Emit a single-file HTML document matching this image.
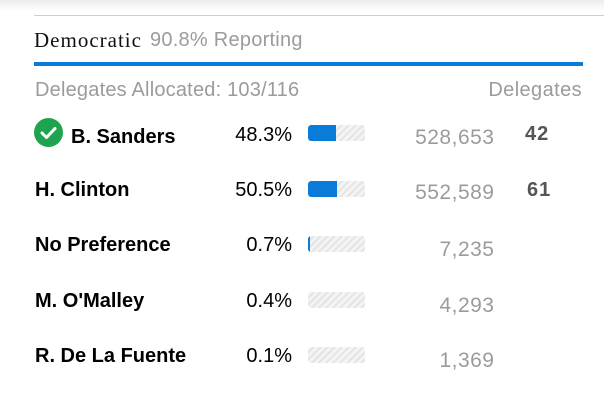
<!DOCTYPE html>
<html><head><meta charset="utf-8"><style>
html,body{margin:0;padding:0;background:#fff;width:604px;height:400px;overflow:hidden;position:relative;font-family:"Liberation Sans",Arial,sans-serif;}
.a{position:absolute;white-space:nowrap;line-height:20px;font-size:20px;}
.shadow{position:absolute;left:0;top:0;width:604px;height:11px;background:linear-gradient(#ececec,#fff);}
.topline{position:absolute;left:34px;top:15px;width:570px;height:1px;background:#cfcfcf;}
.blueline{position:absolute;left:34px;top:62px;width:549px;height:4px;background:#0a7cd7;}
.name{font-weight:bold;color:#000;left:35px;}
.pct{color:#000;right:312px;text-align:right;}
.num{color:#9b9b9b;right:110px;text-align:right;letter-spacing:0.5px;margin-right:-0.5px;font-size:21px;}
.del{color:#555;font-weight:bold;letter-spacing:1px;}
.bar{position:absolute;left:308px;width:57px;height:16px;border-radius:3px;overflow:hidden;
background:repeating-linear-gradient(135deg,#f4f4f4 0px,#f4f4f4 3px,#e4e4e4 3px,#e4e4e4 5px);}
.fill{position:absolute;left:0;top:0;height:16px;background:#0a7cd7;border-radius:3px 0 0 3px;}
</style></head><body>
<div class="shadow"></div>
<div class="topline"></div>
<div class="a" style="left:34px;top:29px;font-family:'Liberation Serif',serif;font-size:21px;line-height:22px;letter-spacing:1px;color:#111;">Democratic</div>
<div class="a" style="left:150px;top:30px;color:#9b9b9b;letter-spacing:0.25px;">90.8% Reporting</div>
<div class="blueline"></div>
<div class="a" style="left:35px;top:80px;color:#9b9b9b;letter-spacing:0.2px;">Delegates Allocated: 103/116</div>
<div class="a" style="right:22px;top:80px;color:#9b9b9b;letter-spacing:0.4px;">Delegates</div>

<svg style="position:absolute;left:34px;top:118px" width="29" height="29" viewBox="0 0 29 29">
<circle cx="14.5" cy="14.5" r="14.5" fill="#1fa34f"/>
<polyline points="8,15 12.5,19.5 21,10.5" fill="none" stroke="#fff" stroke-width="3" stroke-linecap="round" stroke-linejoin="round"/>
</svg>

<div class="a name" style="left:71px;top:127px;">B. Sanders</div>
<div class="a pct" style="top:125px;">48.3%</div>
<div class="bar" style="top:125px;"><div class="fill" style="width:28px"></div></div>
<div class="a num" style="top:128px;">528,653</div>
<div class="a del" style="left:525px;top:124px;">42</div>

<div class="a name" style="top:180px;">H. Clinton</div>
<div class="a pct" style="top:180px;">50.5%</div>
<div class="bar" style="top:181px;"><div class="fill" style="width:29px"></div></div>
<div class="a num" style="top:183px;">552,589</div>
<div class="a del" style="left:527px;top:180px;">61</div>

<div class="a name" style="top:235px;">No Preference</div>
<div class="a pct" style="top:235px;">0.7%</div>
<div class="bar" style="top:236px;"><div class="fill" style="width:1.5px;border-radius:0"></div></div>
<div class="a num" style="top:240px;">7,235</div>

<div class="a name" style="top:291px;">M. O'Malley</div>
<div class="a pct" style="top:291px;">0.4%</div>
<div class="bar" style="top:292px;"></div>
<div class="a num" style="top:296px;">4,293</div>

<div class="a name" style="top:346px;">R. De La Fuente</div>
<div class="a pct" style="top:346px;">0.1%</div>
<div class="bar" style="top:347px;"></div>
<div class="a num" style="top:351px;">1,369</div>
</body></html>
